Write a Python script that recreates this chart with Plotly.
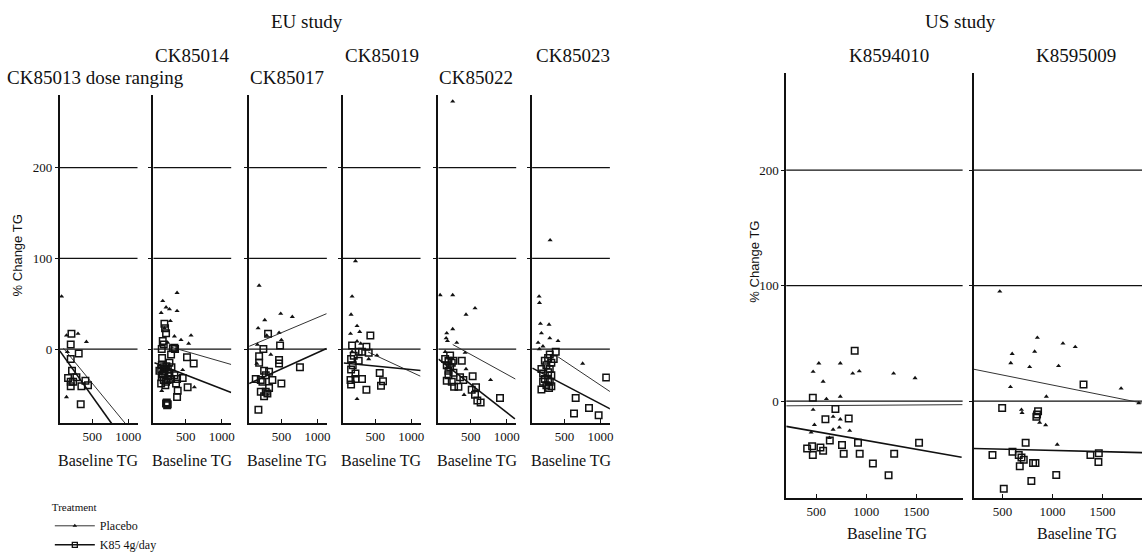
import plotly.graph_objects as go

# ---------------- data ----------------
panel_titles = ["CK85013 dose ranging", "CK85014", "CK85017", "CK85019",
                "CK85022", "CK85023", "K8594010", "K8595009"]
ref_levels = [0, 100, 200]
eu_xticks = [500, 1000]
us_xticks = [500, 1000, 1500]
y_ticks = [0, 100, 200]

# CK85013
p1_pl_x = [75, 143, 303, 420, 156, 143]
p1_pl_y = [58, 15, 17, 8, -3, -53]
p1_k85_x = [212, 202, 313, 202, 220, 165, 281, 202, 235, 202, 350, 406, 442, 341]
p1_k85_y = [17, 5, -5, -11, -24, -32, -31, -36, -36, -41, -41, -35, -40, -61]
p1_pl_line_x, p1_pl_line_y = [100, 960], [1, -82]
p1_k85_line_x, p1_k85_line_y = [50, 770], [-2, -82]

# CK85014
p2_pl_x = [378, 179, 225, 272, 378, 157, 285, 202, 572, 433, 539, 456, 618, 165, 341, 248]
p2_pl_y = [62, 53, 46, 44, 42, 40, 31, 23, 15, 10, 6, -23, -42, -46, 14, 7]
p2_k85_x = [202, 211, 225, 179, 193, 165, 341, 295, 272, 157, 202, 165, 248, 295, 341, 378,
            456, 364, 157, 225, 387, 378, 225, 248, 525, 516, 609, 133, 202, 272, 193, 350,
            320, 165, 190, 230, 260, 180, 215, 250, 300, 170, 235, 240]
p2_k85_y = [28, 23, 17.5, 9, 5, 0, 1.5, -6, -15, -22, -25, -31, -34, -33, -29, -33,
            -32, -38, -38, -36, -46, -53, -60, -61, -42, -9, -16, -24, -22, -27, -34, 0,
            1, -18, -20, -19, -30, -28, -40, -22, -20, -10, -59, -62]
p2_pl_line_x, p2_pl_line_y = [300, 1130], [2, -17]
p2_k85_line_x, p2_k85_line_y = [64, 1130], [-15, -48]

# CK85017
p3_pl_x = [189, 267, 175, 489, 650, 466, 498, 295, 165, 351, 157]
p3_pl_y = [70, 32, 23, 39, 35.5, 18, 10, 15, 5, -6, -16]
p3_k85_x = [313, 480, 248, 189, 466, 466, 189, 756, 258, 327, 281, 142, 212, 235, 373, 498,
            327, 212, 281, 258, 304, 179]
p3_k85_y = [17, 4, 0, -8, -12, -16, -15, -20, -24, -25, -29, -33, -34, -36, -34, -38,
            -43, -47, -47, -52, -49, -67]
p3_pl_line_x, p3_pl_line_y = [50, 1126], [3, 39]
p3_k85_line_x, p3_k85_line_y = [50, 1126], [-38, 0.7]

# CK85019
p4_pl_x = [226, 179, 165, 248, 285, 157, 248, 299, 179, 410, 525, 248]
p4_pl_y = [97, 58, 38, 25.5, 19, 17, 8.6, 6, -3, -11, -7, -55]
p4_k85_x = [433, 179, 378, 271, 317, 410, 202, 165, 271, 188, 165, 226, 157, 226, 317, 165,
            563, 609, 581, 378]
p4_k85_y = [15, 4, 2.5, -3, -3, -4, -7.5, -11, -13, -18, -22.6, -27, -34, -33, -33, -39,
            -26.5, -35.5, -40.5, -45]
p4_pl_line_x, p4_pl_line_y = [400, 1130], [-3.2, -30]
p4_k85_line_x, p4_k85_line_y = [64, 1134], [-15.4, -23.7]

# CK85022
p5_pl_x = [248, 73, 248, 558, 433, 248, 165, 157, 175, 304, 143, 420, 433, 774, 406]
p5_pl_y = [273, 59.5, 59.5, 45, 38, 22, 17.5, 12, 9, 7, -3, -4, -22, -34, -50.5]
p5_k85_x = [374, 143, 189, 235, 165, 212, 258, 189, 258, 189, 165, 235, 350, 396, 525, 327,
            267, 512, 572, 558, 590, 636, 905, 212]
p5_k85_y = [-13, -11, -13, -15, -18, -20, -13, -24, -26, -29, -35, -36, -31, -34, -30, -41.6,
            -41.6, -45, -42, -50.5, -56.6, -59, -54, -7]
p5_pl_line_x, p5_pl_line_y = [248, 1118], [5, -33]
p5_k85_line_x, p5_k85_line_y = [50, 1112], [-11, -77]

# CK85023
p6_pl_x = [147, 152, 165, 285, 179, 295, 410, 133, 752, 300, 150, 200]
p6_pl_y = [58, 51, 28, 27, 17.5, 12, 9, 7, -16, 120, 0, 3]
p6_k85_x = [295, 378, 350, 272, 226, 317, 248, 179, 295, 272, 202, 317, 226, 272, 202, 295,
            248, 317, 179, 285, 1079, 655, 840, 632, 974]
p6_k85_y = [-6, -3, -11, -10, -13, -15, -18, -22, -22, -25.5, -27, -29, -33, -34, -36, -36,
            -40, -41, -44.5, -43, -31.5, -54, -65, -71, -73]
p6_pl_line_x, p6_pl_line_y = [410, 1134], [-8.6, -47]
p6_k85_line_x, p6_k85_line_y = [54, 1134], [-21, -66]

# K8594010
p7_pl_x = [526, 469, 741, 865, 931, 569, 1274, 1489, 602, 741, 469, 669, 741, 482, 731, 669,
           835, 449, 632]
p7_pl_y = [32.8, 25.5, 32.8, 24, 26, 17, 24, 20, 2, 4, -7.3, -13.4, -15.7, -20.4, -22.7, -24.6,
           -25.5, -27, -31.7]
p7_k85_x = [885, 466, 692, 592, 825, 636, 918, 1529, 409, 459, 542, 569, 466, 758, 775, 935,
            1067, 1280, 1224]
p7_k85_y = [43.7, 3, -6.7, -15.7, -15, -34, -36, -36, -41, -39, -40, -43, -46.5, -38, -45.6,
            -45.6, -54, -45.6, -64]
p7_pl_line_x, p7_pl_line_y = [200, 1965], [-4, -3]
p7_k85_line_x, p7_k85_line_y = [200, 1955], [-21.8, -48.5]

# K8595009
p8_pl_x = [472, 848, 1104, 1227, 596, 821, 582, 771, 1060, 579, 1686, 938, 689, 695, 871, 931,
           1047, 1862]
p8_pl_y = [95, 55, 50, 47, 41, 43, 33, 29.7, 30.5, 12.3, 11, 4, -7.3, -10, -18.5, -20.7,
           -37.5, -1.7]
p8_k85_x = [496, 855, 845, 838, 1310, 731, 399, 599, 662, 689, 712, 672, 805, 829, 788, 1037,
            512, 1379, 1463, 1459]
p8_k85_y = [-5.9, -8.7, -11.5, -13.5, 14.5, -35.9, -46.5, -43.7, -46.5, -48.7, -50.7, -56.3,
            -53.5, -53.5, -69, -63.9, -75.9, -46.5, -45, -52.7]
p8_pl_line_x, p8_pl_line_y = [210, 1895], [27.7, -1.6]
p8_k85_line_x, p8_k85_line_y = [210, 1895], [-40.9, -44.5]

# ---------------- layout geometry (pixels) ----------------
W, H = 1146, 560
FONT = "Liberation Serif, Times New Roman, serif"

panels = [
    # (left px, right px, top px, bottom px, xrange, yrange, xticks)
    (60, 138, 97, 434, [50, 1130], [-81.7, 280.6], eu_xticks),
    (154, 232, 97, 434, [50, 1130], [-81.7, 280.6], eu_xticks),
    (250, 328, 97, 434, [50, 1130], [-81.7, 280.6], eu_xticks),
    (344, 422, 97, 434, [50, 1130], [-81.7, 280.6], eu_xticks),
    (440, 518, 97, 434, [50, 1130], [-81.7, 280.6], eu_xticks),
    (534, 612, 97, 434, [50, 1130], [-81.7, 280.6], eu_xticks),
    (789, 966, 75, 511, [200, 1965], [-84, 284], us_xticks),
    (977, 1146, 75, 511, [210, 1895], [-84, 284], us_xticks),
]

data = [
    (p1_pl_x, p1_pl_y, p1_k85_x, p1_k85_y, p1_pl_line_x, p1_pl_line_y, p1_k85_line_x, p1_k85_line_y),
    (p2_pl_x, p2_pl_y, p2_k85_x, p2_k85_y, p2_pl_line_x, p2_pl_line_y, p2_k85_line_x, p2_k85_line_y),
    (p3_pl_x, p3_pl_y, p3_k85_x, p3_k85_y, p3_pl_line_x, p3_pl_line_y, p3_k85_line_x, p3_k85_line_y),
    (p4_pl_x, p4_pl_y, p4_k85_x, p4_k85_y, p4_pl_line_x, p4_pl_line_y, p4_k85_line_x, p4_k85_line_y),
    (p5_pl_x, p5_pl_y, p5_k85_x, p5_k85_y, p5_pl_line_x, p5_pl_line_y, p5_k85_line_x, p5_k85_line_y),
    (p6_pl_x, p6_pl_y, p6_k85_x, p6_k85_y, p6_pl_line_x, p6_pl_line_y, p6_k85_line_x, p6_k85_line_y),
    (p7_pl_x, p7_pl_y, p7_k85_x, p7_k85_y, p7_pl_line_x, p7_pl_line_y, p7_k85_line_x, p7_k85_line_y),
    (p8_pl_x, p8_pl_y, p8_k85_x, p8_k85_y, p8_pl_line_x, p8_pl_line_y, p8_k85_line_x, p8_k85_line_y),
]

title_pos = [(96, 79), (193, 57), (288, 79), (383, 57), (478, 79), (575, 57), (892, 57), (1080, 57)]
xlabel_pos = [(99, 472), (193, 472), (289, 472), (383, 472), (479, 472), (573, 472), (891, 547), (1081, 547)]


def px(x):
    return x / W


def py(y):
    return 1 - y / H


fig = go.Figure()
layout = dict(
    width=W, height=H, margin=dict(l=0, r=0, t=0, b=0),
    paper_bgcolor="white", plot_bgcolor="white",
    font=dict(family=FONT, color="black", size=13),
    showlegend=True,
)
shapes = []
annotations = []

INK = "#111111"

for i, (geo, d) in enumerate(zip(panels, data), start=1):
    left, right, top, bottom, xr, yr, xt = geo
    xa = "xaxis" if i == 1 else f"xaxis{i}"
    ya = "yaxis" if i == 1 else f"yaxis{i}"
    xs = "x" if i == 1 else f"x{i}"
    ys = "y" if i == 1 else f"y{i}"
    layout[xa] = dict(
        domain=[px(left), min(px(right), 1.0)], range=xr, anchor=ys,
        showline=True, linecolor=INK, linewidth=1.5, showgrid=False, zeroline=False,
        tickvals=xt, ticks="inside", ticklen=4, tickcolor=INK,
        tickfont=dict(size=13, family=FONT, color=INK), fixedrange=True,
    )
    layout[ya] = dict(
        domain=[py(bottom), py(top)], range=yr, anchor=xs,
        showline=True, linecolor=INK, linewidth=2, showgrid=False, zeroline=False,
        tickvals=y_ticks, ticks="outside", ticklen=3, tickcolor=INK,
        showticklabels=(i in (1, 7)),
        tickfont=dict(size=13, family=FONT, color=INK), fixedrange=True,
    )
    for lv in ref_levels:
        shapes.append(dict(type="line", xref=f"{xs} domain", yref=ys, x0=0, x1=1, y0=lv, y1=lv,
                           line=dict(color=INK, width=1.3), layer="below"))
    plx, ply, kx, ky, pllx, plly, klx, kly = d
    fig.add_trace(go.Scatter(x=pllx, y=plly, mode="lines", xaxis=xs, yaxis=ys,
                             line=dict(color="#333333", width=1), showlegend=False,
                             hoverinfo="skip"))
    fig.add_trace(go.Scatter(x=klx, y=kly, mode="lines", xaxis=xs, yaxis=ys,
                             line=dict(color=INK, width=1.6), showlegend=False,
                             hoverinfo="skip"))
    fig.add_trace(go.Scatter(x=plx, y=ply, mode="markers", xaxis=xs, yaxis=ys,
                             marker=dict(symbol="triangle-up", size=4.5, color=INK),
                             showlegend=False))
    fig.add_trace(go.Scatter(x=kx, y=ky, mode="markers", xaxis=xs, yaxis=ys,
                             marker=dict(symbol="square-open", size=6.5, color=INK,
                                         line=dict(width=1.5, color=INK)),
                             showlegend=False))
    tx, ty = title_pos[i - 1]
    annotations.append(dict(text=panel_titles[i - 1], x=px(tx), y=py(ty), xref="paper", yref="paper",
                            showarrow=False, xanchor="center", yanchor="middle",
                            font=dict(size=19, family=FONT, color=INK)))
    bx, by = xlabel_pos[i - 1]
    annotations.append(dict(text="Baseline TG", x=px(bx), y=py(by), xref="paper", yref="paper",
                            showarrow=False, xanchor="center", yanchor="middle",
                            font=dict(size=16, family=FONT, color=INK)))

# group titles and y labels
for txt, x, y in [("EU study", 308, 22), ("US study", 964, 22)]:
    annotations.append(dict(text=txt, x=px(x), y=py(y), xref="paper", yref="paper", showarrow=False,
                            xanchor="center", yanchor="middle",
                            font=dict(size=19, family=FONT, color=INK)))
for x, y in [(18, 262), (757, 268)]:
    annotations.append(dict(text="% Change TG", x=px(x), y=py(y), xref="paper", yref="paper",
                            showarrow=False, textangle=-90, xanchor="center", yanchor="middle",
                            font=dict(size=13, family="Liberation Sans, Arial, sans-serif", color=INK)))

# legend entries
fig.add_trace(go.Scatter(x=[None], y=[None], mode="lines+markers", name="Placebo",
                         line=dict(color="#333333", width=1),
                         marker=dict(symbol="triangle-up", size=4, color=INK)))
fig.add_trace(go.Scatter(x=[None], y=[None], mode="lines+markers", name="K85 4g/day",
                         line=dict(color=INK, width=1.6),
                         marker=dict(symbol="square-open", size=5, color=INK,
                                     line=dict(width=1.3, color=INK))))

layout["legend"] = dict(
    x=px(50), y=py(510), xanchor="left", yanchor="top",
    title=dict(text="Treatment", font=dict(size=11, family=FONT, color=INK)),
    font=dict(size=12, family=FONT, color=INK), bgcolor="rgba(0,0,0,0)",
    itemwidth=40, tracegroupgap=0,
)
layout["shapes"] = shapes
layout["annotations"] = annotations
fig.update_layout(**layout)

fig.write_html("out.html")
